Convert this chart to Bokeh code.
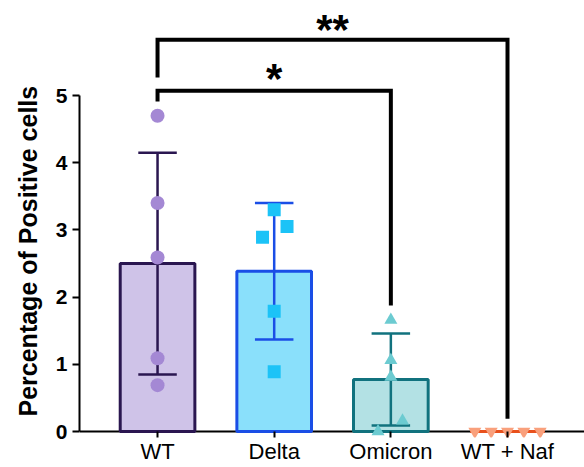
from bokeh.plotting import figure
from bokeh.models import Range1d, Span, FixedTicker, Title
from bokeh.core.properties import value
from bokeh.embed import file_html
from bokeh.resources import INLINE

# ---- data ----
groups = ["WT", "Delta", "Omicron", "WT + Naf"]
means = [2.50, 2.385, 0.775, 0.0]
sds = [1.65, 1.015, 0.685, 0.0]

wt_vals = [4.70, 3.40, 2.59, 1.09, 0.69]
delta_vals = [3.30, 3.05, 2.89, 1.79, 0.89]
omicron_vals = [1.66, 1.06, 0.81, 0.16, 0.0]
naf_vals = [0.0, 0.0, 0.0, 0.0, 0.0]

# horizontal spread of the points inside each group (category units)
wt_jit = [0.0, 0.0, 0.0, 0.0, 0.0]
delta_jit = [0.0, 0.11, -0.10, 0.0, 0.0]
omicron_jit = [0.0, 0.0, 0.0, 0.10, -0.11]
naf_jit = [-0.28, -0.14, 0.0, 0.14, 0.28]

# significance brackets: (group a, group b), level, leg ends, label
bracket_pairs = [(0, 2), (0, 3)]
bracket_level = [5.07, 5.83]
bracket_left_end = [4.91, 5.27]
bracket_right_end = [1.875, 0.19]
bracket_label = ["*", "**"]
bracket_label_y = [5.25, 5.98]

y_title = "Percentage of Positive cells"

# ---- styles ----
fills = ["#cfc3e8", "#8ae0fb", "#b3e1e4", "#ffffff"]
edges = ["#2a1650", "#1a4ee6", "#11727e", "#e8501c"]
point_colors = ["#a488d4", "#1cc3f7", "#6ccbd1", "#f9a07c"]
markers = ["circle", "square", "triangle", "inverted_triangle"]
FONT = "Liberation Sans"

p = figure(width=584, height=467, output_backend="svg", toolbar_location=None,
           x_range=Range1d(-0.669, 3.66), y_range=Range1d(-0.089, 6.414),
           min_border_left=79, min_border_right=0, min_border_top=0,
           min_border_bottom=30)
p.outline_line_color = None
p.xgrid.visible = False
p.ygrid.visible = False
p.background_fill_color = "white"

xs = list(range(len(groups)))

# bars
p.vbar(x=xs, top=means, bottom=0, width=0.64, fill_color=fills,
       line_color=edges, line_width=3)

# error bars
lo = [m - s for m, s in zip(means, sds)]
hi = [m + s for m, s in zip(means, sds)]
p.segment(x0=xs, y0=lo, x1=xs, y1=hi, line_color=edges, line_width=2.5)
cap = 0.165
p.segment(x0=[x - cap for x in xs], y0=hi, x1=[x + cap for x in xs], y1=hi,
          line_color=edges, line_width=2.5)
p.segment(x0=[x - cap for x in xs], y0=lo, x1=[x + cap for x in xs], y1=lo,
          line_color=edges, line_width=2.5)

# x axis line at zero (under the glyphs)
p.add_layout(Span(location=0, dimension="width", line_color="black",
                  line_width=2, level="underlay"))

# individual points
all_vals = [wt_vals, delta_vals, omicron_vals, naf_vals]
all_jit = [wt_jit, delta_jit, omicron_jit, naf_jit]
sizes = [14, 13, 13, 13]
for i, (vals, jit) in enumerate(zip(all_vals, all_jit)):
    p.scatter(x=[i + j for j in jit], y=vals, marker=markers[i],
              size=sizes[i], fill_color=point_colors[i], line_color=None)

# brackets
bx, by = [], []
for (a, b), lev, le, re in zip(bracket_pairs, bracket_level,
                               bracket_left_end, bracket_right_end):
    bx.append([a, a, b, b])
    by.append([le, lev, lev, re])
p.multi_line(xs=bx, ys=by, line_color="black", line_width=4,
             line_join="miter")
p.text(x=[(a + b) / 2 for a, b in bracket_pairs], y=bracket_label_y,
       text=bracket_label, text_align="center", text_baseline="alphabetic",
       text_font=value(FONT), text_font_style="bold",
       text_font_size="42px", text_color="black")

# y axis title (placed along the lower part, like the reference)
p.add_layout(Title(text=y_title, align="left", offset=21, standoff=22,
                   text_font=FONT, text_font_style="bold",
                   text_font_size="25px", text_color="black"), "left")

# y axis
ya = p.yaxis[0]
ya.bounds = (0, 5)
ya.ticker = FixedTicker(ticks=[0, 1, 2, 3, 4, 5])
ya.major_label_text_font = FONT
ya.major_label_text_font_style = "bold"
ya.major_label_text_font_size = "21px"
ya.major_label_text_color = "black"
ya.major_label_standoff = 5
ya.axis_line_color = "black"
ya.axis_line_width = 2
ya.major_tick_line_color = "black"
ya.major_tick_line_width = 2
ya.major_tick_out = 7
ya.major_tick_in = 0
ya.minor_tick_line_color = None

# x axis
xa = p.xaxis[0]
xa.ticker = FixedTicker(ticks=xs)
xa.major_label_overrides = {i: g for i, g in enumerate(groups)}
xa.axis_line_color = None
xa.major_tick_line_color = "black"
xa.major_tick_line_width = 2
xa.major_tick_in = 6
xa.major_tick_out = 0
xa.minor_tick_line_color = None
xa.major_label_text_font = FONT
xa.major_label_text_font_size = "22px"
xa.major_label_text_color = "black"
xa.major_label_standoff = 1

open("out.html", "w").write(file_html(p, INLINE))
